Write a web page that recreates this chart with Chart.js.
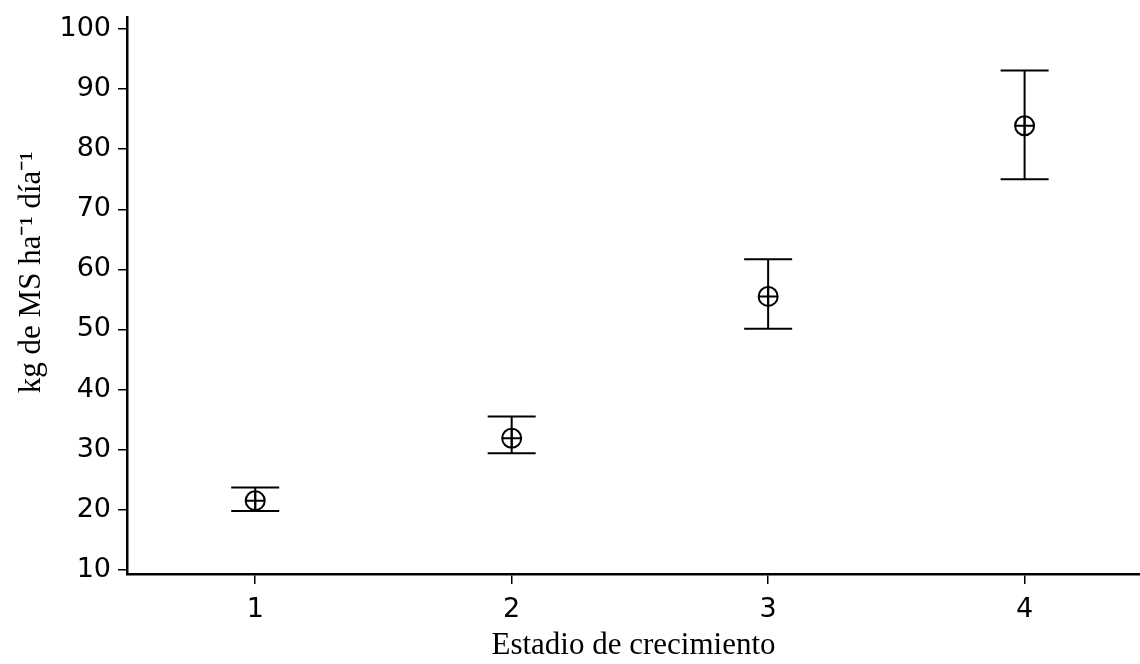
<!DOCTYPE html>
<html>
<head>
<meta charset="utf-8">
<script src="https://cdn.jsdelivr.net/npm/chart.js@4/dist/chart.umd.min.js"></script>
<style>
  html, body { margin:0; padding:0; background:#fff; overflow:hidden; }
  #wrap { width:1140px; height:664px; }
  canvas { display:block; }
</style>
</head>
<body>
<div id="wrap"><canvas id="c" width="1140" height="664"></canvas></div>
<script>
// datos: estadio de crecimiento vs tasa de crecimiento
const stages = [1, 2, 3, 4];
const means  = [21.5, 31.9, 55.5, 83.9];
const upper  = [23.7, 35.5, 61.7, 93.1];
const lower  = [19.8, 29.4, 50.1, 75.0];
const yTicks = [10, 20, 30, 40, 50, 60, 70, 80, 90, 100];
const xTicks = [1, 2, 3, 4];

const points = stages.map((s,i)=>({ x:s, y:means[i] }));

// barras de error con tapas horizontales
const errorBars = {
  id: 'errorBars',
  afterDatasetsDraw(chart){
    const {ctx, scales:{x, y}} = chart;
    ctx.save();
    ctx.strokeStyle = '#000';
    ctx.lineWidth = 2;
    const cap = 24;
    stages.forEach((s,i)=>{
      const px = x.getPixelForValue(s);
      const yt = y.getPixelForValue(upper[i]);
      const yb = y.getPixelForValue(lower[i]);
      ctx.beginPath();
      ctx.moveTo(px, yt); ctx.lineTo(px, yb);
      ctx.moveTo(px-cap, yt); ctx.lineTo(px+cap, yt);
      ctx.moveTo(px-cap, yb); ctx.lineTo(px+cap, yb);
      ctx.stroke();
    });
    ctx.restore();
  }
};

const tickFont = { family:'"DejaVu Sans", Verdana, sans-serif', size:27 };
const titleFont = { family:'"Liberation Serif", "Times New Roman", serif', size:31 };

new Chart(document.getElementById('c'), {
  type: 'scatter',
  data: {
    datasets: [
      { data: points, pointStyle:'circle', pointRadius:9.5, pointHoverRadius:9.5,
        borderColor:'#000', backgroundColor:'rgba(0,0,0,0)', borderWidth:2 },
      { data: points, pointStyle:'cross', pointRadius:9.5, pointHoverRadius:9.5,
        borderColor:'#000', borderWidth:2 }
    ]
  },
  options: {
    responsive:false,
    animation:false,
    layout:{ autoPadding:false, padding:{ top:17, right:0, left:0, bottom:0 } },
    plugins:{ legend:{ display:false }, tooltip:{ enabled:false } },
    scales:{
      x:{
        type:'linear', min:0.5, max:4.45,
        afterBuildTicks: a => { a.ticks = xTicks.map(v=>({value:v})); },
        afterFit: s => { s.height = 90; s.paddingLeft = 0; s.paddingRight = 0; },
        grid:{ display:true, drawOnChartArea:false, drawTicks:true, tickLength:10, color:'#000', lineWidth:1.5 },
        border:{ display:true, color:'#000', width:2.5 },
        ticks:{ color:'#000', font:tickFont, padding:10, maxRotation:0 },
        title:{ display:true, text:'Estadio de crecimiento', color:'#000', font:titleFont, padding:{ top:0, bottom:0 } }
      },
      y:{
        type:'linear', min:9.3, max:102,
        afterBuildTicks: a => { a.ticks = yTicks.map(v=>({value:v})); },
        afterFit: s => { s.width = 127; s.paddingTop = 0; s.paddingBottom = 0; },
        grid:{ display:true, drawOnChartArea:false, drawTicks:true, tickLength:9, color:'#000', lineWidth:1.5 },
        border:{ display:true, color:'#000', width:2.5 },
        ticks:{ color:'#000', font:tickFont, padding:7 },
        title:{ display:true, text:'      kg de MS ha⁻¹ día⁻¹', color:'#000', font:titleFont, padding:{ top:13, bottom:0 } }
      }
    }
  },
  plugins:[errorBars]
});
</script>
</body>
</html>
